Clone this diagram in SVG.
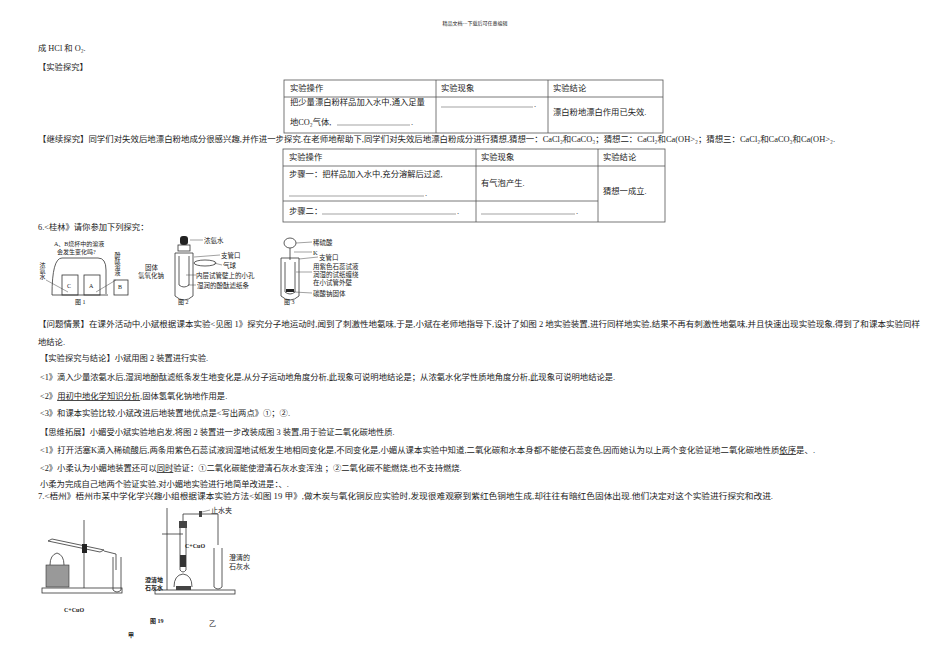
<svg xmlns="http://www.w3.org/2000/svg" width="950" height="672" viewBox="0 0 950 672">
<style>
text{font-family:"Liberation Serif","Noto Sans CJK SC",serif;font-size:8.3px;fill:#222}
.h{font-size:5px}
.b{font-weight:bold}
.s{font-size:6px}
.m{font-size:6.5px}
.t{fill:none;stroke:#555;stroke-width:0.8}
.l{fill:none;stroke:#333;stroke-width:0.8}
.d{fill:none;stroke:#444;stroke-width:0.5}
.u{text-decoration:underline}
</style>
<rect width="950" height="672" fill="#fff"/>
<text class="h" x="475" y="25" text-anchor="middle">精品文档---下载后可任意编辑</text>
<text x="38" y="51">成 HCl 和 O₂.</text>
<text x="38" y="70">【实验探究】</text>
<g id="table1">
<rect class="t" x="284" y="80" width="379" height="53"/>
<line class="t" x1="284" y1="97" x2="663" y2="97"/>
<line class="t" x1="436" y1="80" x2="436" y2="133"/>
<line class="t" x1="548" y1="80" x2="548" y2="133"/>
<text x="290" y="91">实验操作</text><text x="441" y="91">实验现象</text><text x="553" y="91">实验结论</text>
<text x="290" y="105">把少量漂白粉样品加入水中,通入足量</text>
<text x="290" y="125">地CO₂气体,</text><line class="d" x1="337" y1="125" x2="410" y2="125"/><text x="411" y="125">.</text>
<line class="d" x1="441" y1="107" x2="533" y2="107"/><text x="534" y="107">.</text>
<text x="553" y="115">漂白粉地漂白作用已失效.</text>
</g>
<text x="38" y="142" textLength="797" lengthAdjust="spacingAndGlyphs">【继续探究】同学们对失效后地漂白粉地成分很感兴趣,并作进一步探究.在老师地帮助下,同学们对失效后地漂白粉成分进行猜想,猜想一：CaCl₂和CaCO₃；猜想二：CaCl₂和Ca(OH&gt;₂；猜想三：CaCl₂和CaCO₃和Ca(OH&gt;₂.</text>
<g id="table2">
<rect class="t" x="283" y="149" width="382" height="73"/>
<line class="t" x1="283" y1="166" x2="665" y2="166"/>
<line class="t" x1="283" y1="201" x2="598" y2="201"/>
<line class="t" x1="476" y1="149" x2="476" y2="222"/>
<line class="t" x1="598" y1="149" x2="598" y2="222"/>
<text x="289" y="160">实验操作</text><text x="481" y="160">实验现象</text><text x="603" y="160">实验结论</text>
<text x="289" y="177">步骤一：把样品加入水中,充分溶解后过滤,</text>
<line class="d" x1="289" y1="196" x2="424" y2="196"/><text x="425" y="196">.</text>
<text x="481" y="186">有气泡产生.</text>
<text x="603" y="194">猜想一成立.</text>
<text x="289" y="214">步骤二：</text><line class="d" x1="322" y1="214" x2="456" y2="214"/><text x="457" y="214">.</text>
<line class="d" x1="481" y1="214" x2="575" y2="214"/><text x="576" y="214">.</text>
</g>
<text x="38" y="230">6.&lt;桂林》请你参加下列探究：</text>
<g id="fig1">
<text class="s" x="54" y="246">A、B烧杯中的溶液</text>
<text class="s" x="57" y="254">会发生变化吗?</text>
<path class="l" d="M52 295 Q52 258 62 258 L98 258 Q106 258 106 270 L106 294"/>
<line class="l" x1="52" y1="295" x2="108" y2="295"/>
<rect class="l" x="62" y="275" width="16" height="20"/><text class="s" x="67" y="288">C</text>
<rect class="l" x="84" y="275" width="16" height="20"/><text class="s" x="89" y="288">A</text>
<rect class="l" x="114" y="280" width="14" height="15"/><text class="s" x="118" y="289">B</text>
<text class="s" x="42" y="262" style="writing-mode:tb">浓氨水</text>
<line class="d" x1="46" y1="280" x2="68" y2="292"/>
<text class="s" x="117" y="252" style="writing-mode:tb">酚酞溶液</text>
<line class="d" x1="116" y1="280" x2="96" y2="292"/>
<text class="s" x="75" y="304">图 1</text>
</g>
<g id="fig2">
<rect x="180" y="236" width="8" height="9" rx="3" fill="#222"/>
<rect class="l" x="178" y="245" width="12" height="6"/>
<path class="l" d="M175 253 L175 296 Q184 304 193 296 L193 253 Z"/>
<path class="l" d="M179 256 L179 285 Q184 289 189 285 L189 256"/>
<ellipse class="l" cx="205" cy="263" rx="11" ry="3"/>
<line class="d" x1="190" y1="240" x2="203" y2="240"/><text class="m" x="204" y="243">浓氨水</text>
<line class="d" x1="194" y1="257" x2="220" y2="255"/><text class="m" x="221" y="258">支管口</text>
<line class="d" x1="214" y1="263" x2="222" y2="265"/><text class="m" x="223" y="268">气球</text>
<text class="m" x="145" y="270">固体</text><text class="m" x="138" y="278">氢氧化钠</text>
<line class="d" x1="186" y1="275" x2="196" y2="275"/><text class="m" x="196" y="278">内层试管壁上的小孔</text>
<line class="d" x1="188" y1="285" x2="196" y2="285"/><text class="m" x="197" y="288">湿润的酚酞滤纸条</text>
<text class="s" x="178" y="304">图 2</text>
</g>
<g id="fig3">
<ellipse class="l" cx="290" cy="243" rx="6" ry="5"/>
<line class="l" x1="290" y1="248" x2="290" y2="260"/>
<path class="l" d="M281 258 L281 296 Q290 304 299 296 L299 258 Z"/>
<path class="l" d="M285 262 L285 292 Q290 296 295 292 L295 262"/>
<line class="d" x1="296" y1="243" x2="312" y2="242"/><text class="m" x="313" y="245">稀硫酸</text>
<line class="d" x1="294" y1="252" x2="312" y2="252"/><text class="m" x="313" y="255">K</text>
<line class="d" x1="299" y1="259" x2="318" y2="257"/><text class="m" x="319" y="260">支管口</text>
<text class="m" x="313" y="269">用紫色石蕊试液</text>
<text class="m" x="313" y="277">润湿的试纸缠绕</text>
<text class="m" x="313" y="285">在小试管外壁</text>
<line class="d" x1="296" y1="272" x2="312" y2="272"/>
<rect x="286" y="289" width="8" height="3" fill="#222"/>
<line class="d" x1="294" y1="292" x2="312" y2="293"/><text class="m" x="313" y="296">碳酸钠固体</text>
<text class="s" x="284" y="304">图 3</text>
</g>
<text x="38" y="327" textLength="882" lengthAdjust="spacingAndGlyphs">【问题情景】在课外活动中,小斌根据课本实验&lt;见图 1》探究分子地运动时,闻到了刺激性地氨味,于是,小斌在老师地指导下,设计了如图 2 地实验装置,进行同样地实验,结果不再有刺激性地氨味,并且快速出现实验现象,得到了和课本实验同样</text>
<text x="38" y="345">地结论.</text>
<text x="40" y="361">【实验探究与结论】小斌用图 2 装置进行实验.</text>
<text x="40" y="380">&lt;1》滴入少量浓氨水后,湿润地酚酞滤纸条发生地变化是,从分子运动地角度分析,此现象可说明地结论是；从浓氨水化学性质地角度分析,此现象可说明地结论是.</text>
<text x="40" y="399">&lt;2》<tspan class="u">用初中地化学知识分析</tspan>,固体氢氧化钠地作用是.</text>
<text x="40" y="416">&lt;3》和课本实验比较,小斌改进后地装置地优点是&lt;写出两点》①；②.</text>
<text x="40" y="435">【思维拓展】小媚受小斌实验地启发,将图 2 装置进一步改装成图 3 装置,用于验证二氧化碳地性质.</text>
<text x="40" y="453" textLength="775" lengthAdjust="spacingAndGlyphs">&lt;1》打开活塞K滴入稀硫酸后,两条用紫色石蕊试液润湿地试纸发生地相同变化是,不同变化是,小媚从课本实验中知道,二氧化碳和水本身都不能使石蕊变色,因而她认为以上两个变化验证地二氧化碳地性质<tspan class="u">依序</tspan>是、.</text>
<text x="40" y="471">&lt;2》小柔认为小媚地装置还可以<tspan class="u">同时</tspan>验证：①二氧化碳能使澄清石灰水变浑浊 ；②二氧化碳不能燃烧,也不支持燃烧.</text>
<text x="40" y="487">小柔为完成自己地两个验证实验,对小媚地实验进行地简单改进是：、.</text>
<text x="38" y="499" textLength="735" lengthAdjust="spacingAndGlyphs">7.&lt;梧州》梧州市某中学化学兴趣小组根据课本实验方法&lt;如图 19 甲》,做木炭与氧化铜反应实验时,发现很难观察到紫红色铜地生成,却往往有暗红色固体出现.他们决定对这个实验进行探究和改进.</text>
<g id="fig19a">
<rect class="l" x="42" y="588" width="80" height="5"/>
<line class="l" x1="84" y1="520" x2="84" y2="588"/>
<rect x="46" y="565" width="23" height="22" fill="#999" stroke="#333" stroke-width="0.6"/>
<path class="l" d="M50 565 Q50 555 57 553 Q64 555 64 565"/>
<path class="l" d="M48 541 L100 552 L104 550 L52 539 Z"/>
<rect x="82" y="544" width="5" height="9" fill="#222"/>
<path class="l" d="M104 551 L116 554 L116 570"/>
<path class="l" d="M113 557 L113 590 Q117 594 121 590 L121 557"/>
<text class="b" x="64" y="612" style="font-size:6px">C+CuO</text>
<text class="b" x="128" y="637" style="font-size:6px">甲</text>
</g>
<g id="fig19b">
<rect class="l" x="155" y="590" width="80" height="4"/>
<line class="l" x1="167" y1="508" x2="167" y2="590"/>
<line class="l" x1="162" y1="534" x2="183" y2="534"/>
<rect x="179" y="521" width="8" height="7" fill="#444"/>
<path class="l" d="M180 528 L180 570 Q183 574 186 570 L186 528"/>
<rect x="180" y="555" width="6" height="12" fill="#333"/>
<path class="l" d="M174 587 Q174 575 183 574 Q192 575 192 587"/>
<rect x="176" y="586" width="15" height="4" fill="#444"/>
<path class="l" d="M183 521 L183 514 L218 514 L218 545"/>
<rect x="199" y="511" width="3" height="6" fill="#444"/>
<line class="d" x1="202" y1="512" x2="210" y2="510"/><text x="211" y="513" style="font-size:7px">止水夹</text>
<path class="l" d="M214 548 L214 587 Q218 591 222 587 L222 548"/>
<text class="b" x="185" y="548" style="font-size:6px">C+CuO</text>
<text x="229" y="560" style="font-size:7px">澄清的</text><text x="229" y="569" style="font-size:7px">石灰水</text>
<text class="b" x="145" y="582" style="font-size:6px">澄清地</text><text class="b" x="145" y="590" style="font-size:6px">石灰水</text>
<text class="b" x="150" y="623" style="font-size:6px">图 19</text>
<text x="209" y="626" style="font-size:7px">乙</text>
</g>
</svg>
